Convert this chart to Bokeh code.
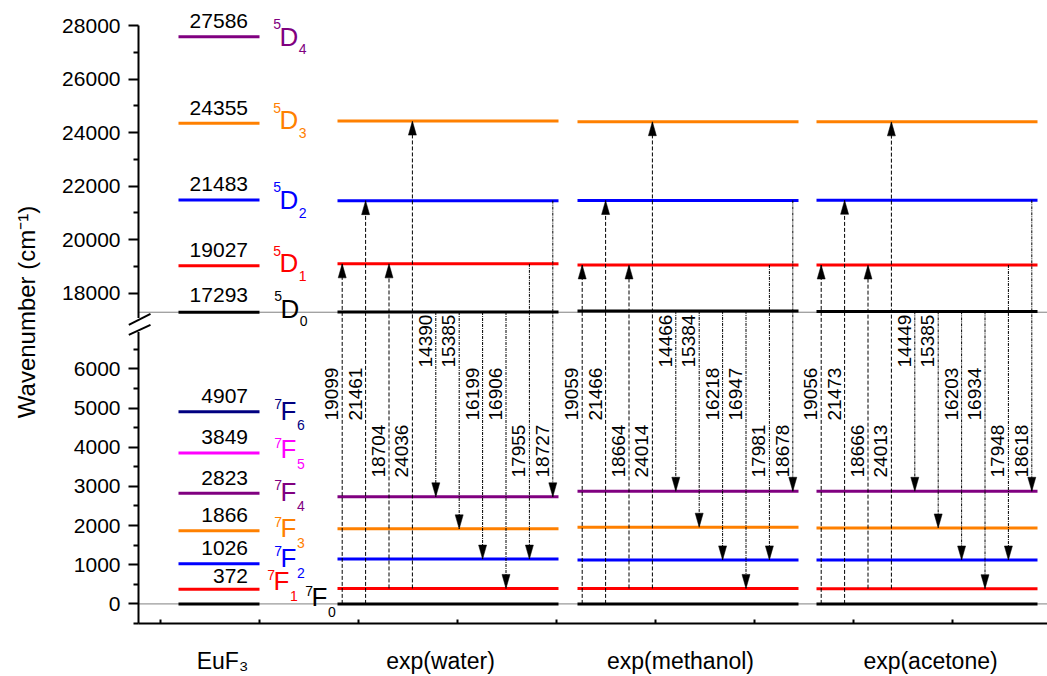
import numpy as np
from bokeh.plotting import figure
from bokeh.models import Range1d, FixedTicker
from bokeh.core.properties import value
from bokeh.embed import file_html
from bokeh.resources import INLINE

# ---------------- data ----------------
euf3_terms = ["7F0", "7F1", "7F2", "7F3", "7F4", "7F5", "7F6", "5D0", "5D1", "5D2", "5D3", "5D4"]
euf3_energy = [0, 372, 1026, 1866, 2823, 3849, 4907, 17293, 19027, 21483, 24355, 27586]

groups = ["exp(water)", "exp(methanol)", "exp(acetone)"]
exp_terms = ["7F0", "7F1", "7F2", "7F3", "7F4", "5D0", "5D1", "5D2", "5D3"]
water_levels = [0, 395, 1144, 1916, 2734, 17301, 19099, 21461, 24431]
methanol_levels = [0, 395, 1124, 1958, 2876, 17342, 19059, 21466, 24409]
acetone_levels = [0, 390, 1121, 1939, 2875, 17324, 19056, 21473, 24403]

trans_from = ["7F0", "7F0", "7F1", "7F1", "5D0", "5D0", "5D0", "5D0", "5D1", "5D2"]
trans_to = ["5D1", "5D2", "5D1", "5D3", "7F4", "7F3", "7F2", "7F1", "7F2", "7F4"]
water_trans = [19099, 21461, 18704, 24036, 14390, 15385, 16199, 16906, 17955, 18727]
methanol_trans = [19059, 21466, 18664, 24014, 14466, 15384, 16218, 16947, 17981, 18678]
acetone_trans = [19056, 21473, 18666, 24013, 14449, 15385, 16203, 16934, 17948, 18618]

y_major_low = [0, 1000, 2000, 3000, 4000, 5000, 6000]
y_minor_low = [-500, 500, 1500, 2500, 3500, 4500, 5500, 6500]
y_major_high = [18000, 20000, 22000, 24000, 26000, 28000]
y_minor_high = [19000, 21000, 23000, 25000, 27000]

# ---------------- layout / style ----------------
FONT = "Liberation Sans"
W, H = 1047, 676
FRAME_L, FRAME_BOTTOM = 138, 53
FRAME_H = H - FRAME_BOTTOM
Y_START = -500
PXY = 25.525                      # display units per pixel
Y_END = Y_START + FRAME_H * PXY
UP_FROM, UP_FROM_D, UP_R = 17000, 7245.0, 0.6834   # broken-axis mapping


def yd(v):
    v = np.asarray(v, dtype=float)
    return np.where(v < 10000, v, UP_FROM_D + (v - UP_FROM) * UP_R)


def ypx(px):
    return Y_START + (FRAME_H - px) * PXY


term_color = {"7F0": "black", "7F1": "#FF0000", "7F2": "#0000FF", "7F3": "#FF8000",
              "7F4": "#800080", "7F5": "#FF00FF", "7F6": "#000080", "5D0": "black",
              "5D1": "#FF0000", "5D2": "#0000FF", "5D3": "#FF8000", "5D4": "#800080"}

EU_X0, EU_X1, EU_NUM_X = 178, 259, 247.5
NUM_SIZE = 21
num_gap = [5.5, 8, 8, 8, 9, 8, 10, 8, 8, 8, 8]          # for euf3 levels 1..
term_x = [313, 275, 282, 282, 282, 282, 282, 282, 281, 281, 281, 281]
term_off = [-6.5, -8, -5.5, -2.5, -1.7, -3.7, -1, -3.5, -2.5, 0, -2.7, 0]
LET_SIZE, SS_SIZE = 26, 14
CAPH = 17.5
letter_adv = {"D": 0.722 * LET_SIZE, "F": 0.611 * LET_SIZE}
sup_shift = {"D": -4, "F": 2}
sub_shift = {"D": 12.5, "F": 14.5}

group_start = [337, 577, 816]
GROUP_W = 221
ARROW_X0, ARROW_DX = 4.7, 23.4
row_px = {"A": 367, "B": 420, "C": 477}
label_rows = ["B", "B", "C", "C", "A", "A", "B", "B", "C", "C"]
cat_x = [222, 440, 680, 930]
x_minor = [160 + 99 * k for k in range(9)]

p = figure(width=W, height=H, x_range=Range1d(FRAME_L, W), y_range=Range1d(Y_START, Y_END),
           output_backend="svg", toolbar_location=None,
           min_border_left=FRAME_L, min_border_right=0, min_border_top=0,
           min_border_bottom=FRAME_BOTTOM)
p.outline_line_color = None
p.grid.visible = False
p.background_fill_color = "white"

# dotted reference lines
p.segment(x0=[FRAME_L, FRAME_L], x1=[W, W], y0=yd([0, 17293]), y1=yd([0, 17293]),
          line_color="black", line_width=1, line_dash="1 1")

# EuF3 levels
ey = yd(euf3_energy)
p.segment(x0=[EU_X0] * len(ey), x1=[EU_X1] * len(ey), y0=ey, y1=ey,
          line_color=[term_color[t] for t in euf3_terms], line_width=3)
p.text(x=[EU_NUM_X] * (len(ey) - 1),
       y=ey[1:] + (np.array(num_gap) + 0.36 * NUM_SIZE) * PXY,
       text=[str(v) for v in euf3_energy[1:]], text_align="right",
       text_baseline="middle", text_font=value(FONT), text_font_size=f"{NUM_SIZE}px",
       text_color="black")

# term symbols (superscript multiplicity, letter, subscript J)
letters, sups, subs = [], [], []
for t, e, tx, off in zip(euf3_terms, ey, term_x, term_off):
    c = term_color[t]
    L = t[1]
    letters.append((tx - 2, e - off * PXY, L, c))
    sups.append((tx - 0.5, e - (off - CAPH / 2 + sup_shift[L]) * PXY, t[0], c))
    subs.append((tx - 2 + letter_adv[L] + 0.5, e - (off + sub_shift[L]) * PXY, t[2], c))
for items, size, align in [(letters, LET_SIZE, "left"), (sups, SS_SIZE, "right"),
                           (subs, SS_SIZE, "left")]:
    p.text(x=[i[0] for i in items], y=[i[1] for i in items], text=[i[2] for i in items],
           text_color=[i[3] for i in items], text_align=align, text_baseline="middle",
           text_font=value(FONT), text_font_size=f"{size}px")

# experimental groups
for gs, levels, trans in zip(group_start, [water_levels, methanol_levels, acetone_levels],
                             [water_trans, methanol_trans, acetone_trans]):
    ly = yd(levels)
    lv = dict(zip(exp_terms, ly))
    p.segment(x0=[gs] * len(ly), x1=[gs + GROUP_W] * len(ly), y0=ly, y1=ly,
              line_color=[term_color[t] for t in exp_terms], line_width=3)
    ax = [gs + ARROW_X0 + ARROW_DX * k for k in range(len(trans))]
    y0 = [lv[f] for f in trans_from]
    y1 = [lv[t] for t in trans_to]
    up = [a < b for a, b in zip(y0, y1)]
    for want, dash in [(True, "4 2"), (False, "3 1 1 1")]:
        idx = [i for i in range(len(ax)) if up[i] == want]
        p.segment(x0=[ax[i] for i in idx], x1=[ax[i] for i in idx],
                  y0=[y0[i] for i in idx], y1=[y1[i] for i in idx],
                  line_color="black", line_width=1, line_dash=dash)
    hx, hy = [], []
    for i in range(len(ax)):
        base = y1[i] - 14 * PXY if up[i] else y1[i] + 14 * PXY
        hx.append([ax[i] - 4, ax[i] + 4, ax[i]])
        hy.append([base, base, y1[i]])
    p.patches(xs=hx, ys=hy, fill_color="black", line_color="black", line_width=0.5)
    p.text(x=[a - 10.5 for a in ax], y=[ypx(row_px[r]) for r in label_rows],
           text=[str(v) for v in trans], angle=np.pi / 2, text_align="left",
           text_baseline="middle", text_font=value(FONT), text_font_size="19px",
           text_color="black")

# y axis
yaxis = p.yaxis[0]
maj = [int(round(float(v))) for v in yd(y_major_low + y_major_high)]
mino = [int(round(float(v))) for v in yd(y_minor_low + y_minor_high)]
yaxis.ticker = FixedTicker(ticks=maj, minor_ticks=mino)
yaxis.major_label_overrides = {k: str(v) for k, v in zip(maj, y_major_low + y_major_high)}
yaxis.bounds = (Y_START, float(yd(28000)))
yaxis.axis_line_width = 2
yaxis.major_tick_out = 10
yaxis.major_tick_in = 0
yaxis.minor_tick_out = 5
yaxis.minor_tick_in = 0
yaxis.major_tick_line_width = 2
yaxis.minor_tick_line_width = 2
yaxis.major_label_standoff = 8
yaxis.major_label_text_font = FONT
yaxis.major_label_text_font_size = "21px"
yaxis.major_label_text_color = "black"
yaxis.axis_label = "Wavenumber (cm\u207b\u00b9)"
yaxis.axis_label_text_font = FONT
yaxis.axis_label_text_font_size = "24px"
yaxis.axis_label_text_font_style = "normal"
yaxis.axis_label_text_color = "black"
yaxis.axis_label_standoff = 19

# x axis
xaxis = p.xaxis[0]
xaxis.ticker = FixedTicker(ticks=cat_x, minor_ticks=x_minor)
xaxis.major_label_overrides = {k: v for k, v in zip(cat_x, ["EuF\u2083"] + groups)}
xaxis.axis_line_width = 2
xaxis.major_tick_in = 0
xaxis.major_tick_out = 0
xaxis.minor_tick_in = 4
xaxis.minor_tick_out = 0
xaxis.minor_tick_line_width = 2
xaxis.major_label_standoff = 24
xaxis.major_label_text_font = FONT
xaxis.major_label_text_font_size = "23px"
xaxis.major_label_text_color = "black"

# axis break
p.segment(x0=[FRAME_L - 0.5], x1=[FRAME_L - 0.5], y0=[ypx(317.5)], y1=[ypx(331.5)],
          line_color="white", line_width=6, level="overlay")
p.segment(x0=[128.3, 128.3], x1=[150, 150], y0=[ypx(324.3), ypx(334.3)],
          y1=[ypx(313.3), ypx(324.3)], line_color="black", line_width=2, level="overlay")

open("out.html", "w").write(file_html(p, INLINE))
